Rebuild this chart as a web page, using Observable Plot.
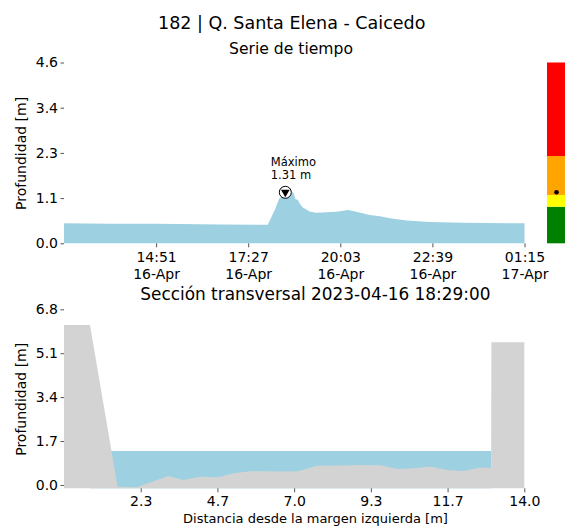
<!DOCTYPE html>
<html>
<head>
<meta charset="utf-8">
<script src="https://cdn.jsdelivr.net/npm/d3@7"></script>
<script src="https://cdn.jsdelivr.net/npm/@observablehq/plot@0.6"></script>
<style>
  html, body { margin: 0; padding: 0; background: white; }
  #wrap { position: relative; width: 565px; height: 527px; overflow: hidden; font-family: "DejaVu Sans", sans-serif; color: black; }
  .t { position: absolute; white-space: nowrap; transform: translateX(-50%); line-height: 1; }
  .abs { position: absolute; }
</style>
</head>
<body>
<div id="wrap"></div>
<script>
// ---------- Data ----------
const stationTitle = "182 | Q. Santa Elena - Caicedo";
const seriesTitle = "Serie de tiempo";
const sectionTitle = "Sección transversal 2023-04-16 18:29:00";
const yLabel = "Profundidad [m]";
const xLabelSection = "Distancia desde la margen izquierda [m]";

// time series (depth in m)
const seriesTimes = [
  "2023-04-16 12:15", "2023-04-16 13:30", "2023-04-16 14:52", "2023-04-16 16:39",
  "2023-04-16 18:00", "2023-04-16 18:04", "2023-04-16 18:12", "2023-04-16 18:20",
  "2023-04-16 18:27", "2023-04-16 18:34", "2023-04-16 18:40", "2023-04-16 18:43",
  "2023-04-16 18:47", "2023-04-16 18:51", "2023-04-16 18:54", "2023-04-16 18:59",
  "2023-04-16 19:11", "2023-04-16 19:22", "2023-04-16 19:39", "2023-04-16 19:56",
  "2023-04-16 20:16", "2023-04-16 20:30", "2023-04-16 20:53", "2023-04-16 21:10",
  "2023-04-16 21:27", "2023-04-16 21:55", "2023-04-16 22:34", "2023-04-16 23:30",
  "2023-04-17 01:15"
];
const seriesDepth = [
  0.51, 0.50, 0.50, 0.48,
  0.47, 0.59, 0.85, 1.15,
  1.21, 1.23, 1.27, 1.31,
  1.12, 1.11, 1.02, 0.92,
  0.81, 0.78, 0.79, 0.80,
  0.85, 0.80, 0.72, 0.69,
  0.64, 0.58, 0.54, 0.52,
  0.51
];
const maxTime = "2023-04-16 18:29";
const maxDepth = 1.31;

const timeDomain = ["2023-04-16 12:15", "2023-04-17 01:15"];
const timeTicks = ["2023-04-16 14:51", "2023-04-16 17:27", "2023-04-16 20:03", "2023-04-16 22:39", "2023-04-17 01:15"];
const timeTickLabels = ["14:51\n16-Apr", "17:27\n16-Apr", "20:03\n16-Apr", "22:39\n16-Apr", "01:15\n17-Apr"];
const depthTicksTop = [0, 1.15, 2.3, 3.45, 4.6];
const depthTickLabelsTop = ["0.0", "1.1", "2.3", "3.4", "4.6"];
const depthDomainTop = [0, 4.6];

// alert levels (colour bar)
const levelLow = [0, 0.93, 1.23, 2.22];
const levelHigh = [0.93, 1.23, 2.22, 4.6];
const levelColors = ["#008000", "#ffff00", "#ffa500", "#ff0000"];

// cross section
const bedX = [0, 0.79, 1.63, 2.21, 2.62, 3.17, 3.63, 4.14, 4.70, 5.15, 5.66, 6.17, 6.67, 7.13, 7.69, 8.40, 9.11, 9.62, 10.17, 10.63, 11.14, 11.65, 12.15, 12.66, 12.99, 13.0, 14.0];
const bedZ = [6.19, 6.19, -0.07, -0.09, 0.09, 0.35, 0.19, 0.32, 0.30, 0.45, 0.53, 0.53, 0.52, 0.53, 0.74, 0.75, 0.77, 0.76, 0.62, 0.65, 0.71, 0.58, 0.54, 0.68, 0.66, 5.52, 5.52];
const waterLevel = 1.31;
const distTicks = [14/6, 28/6, 7, 56/6, 70/6, 14];
const distTickLabels = ["2.3", "4.7", "7.0", "9.3", "11.7", "14.0"];
const depthTicksSec = [0, 1.7, 3.4, 5.1, 6.8];
const depthTickLabelsSec = ["0.0", "1.7", "3.4", "5.1", "6.8"];
const depthDomainSec = [-0.13, 6.8];
const distDomain = [0, 14];

// ---------- Build ----------
const parse = d3.utcParse("%Y-%m-%d %H:%M");
const series = seriesTimes.map((t, i) => ({t: parse(t), v: seriesDepth[i]}));
const maxPoint = [{t: parse(maxTime), v: maxDepth}];
const tickDates = timeTicks.map(parse);
const timeLabelMap = new Map(tickDates.map((d, i) => [+d, timeTickLabels[i]]));
const labelFor = (ticks, labels) => d => labels[ticks.findIndex(t => Math.abs(t - d) < 1e-9)];
const bands = levelLow.map((lo, i) => ({lo, hi: levelHigh[i], color: levelColors[i]}));
const bed = bedX.map((x, i) => ({x, z: bedZ[i]}));
const wetIdx = bed.map((d, i) => d.z < waterLevel ? i : -1).filter(i => i >= 0);
const water = bed.slice(Math.max(0, wetIdx[0] - 1), wetIdx[wetIdx.length - 1] + 1);

const BLUE = "#9dd0e1";
const GRAY = "#d3d3d3";
const font = {fontFamily: "DejaVu Sans, sans-serif", fontSize: "14px", color: "black", background: "white", overflow: "visible"};

const wrap = document.getElementById("wrap");
function place(node, left, top) {
  node.classList.add("abs");
  node.style.left = left + "px";
  node.style.top = top + "px";
  wrap.appendChild(node);
}
function text(str, cx, top, size) {
  const d = document.createElement("div");
  d.className = "t";
  d.textContent = str;
  d.style.left = cx + "px";
  d.style.top = top + "px";
  d.style.fontSize = size + "px";
  wrap.appendChild(d);
}

// top chart
const topH = 285;
const topChart = Plot.plot({
  width: 565, height: topH,
  marginTop: 62.5, marginBottom: topH - 243.3, marginLeft: 64, marginRight: 40.5,
  style: font,
  x: {type: "utc", domain: timeDomain.map(parse)},
  y: {domain: depthDomainTop},
  marks: [
    Plot.areaY(series, {x: "t", y: "v", fill: BLUE}),
    Plot.axisX({ticks: tickDates, tickFormat: d => timeLabelMap.get(+d), tickSize: 4, tickPadding: 3, lineHeight: 1.17, stroke: "#555", label: null}),
    Plot.axisY({ticks: depthTicksTop, tickFormat: labelFor(depthTicksTop, depthTickLabelsTop), tickSize: 3.5, tickPadding: 3, stroke: "#555",
      label: yLabel, labelAnchor: "center", labelOffset: 48, labelArrow: "none"}),
    Plot.dot(maxPoint, {x: "t", y: "v", r: 6, fill: "white", stroke: "black", strokeWidth: 1}),
    Plot.dot(maxPoint, {x: "t", y: "v", r: 3.2, symbol: "triangle", rotate: 180, fill: "black"}),
    Plot.text(maxPoint, {x: "t", y: "v", text: d => `Máximo\n${d.v.toFixed(2)} m`, textAnchor: "start", lineAnchor: "bottom", lineHeight: 1.17, dx: -14.5, dy: -13, fontSize: 11.5, fill: "black"})
  ]
});
place(topChart, 0, 0);

// colour bar
const bar = Plot.plot({
  width: 18, height: topH,
  marginTop: 62.5, marginBottom: topH - 243.3, marginLeft: 0, marginRight: 0,
  style: {background: "transparent", overflow: "visible"},
  x: {domain: [0, 1], axis: null},
  y: {domain: depthDomainTop, axis: null},
  marks: [
    Plot.rectY(bands, {x1: 0, x2: 1, y1: "lo", y2: "hi", fill: "color"}),
    Plot.dot(maxPoint, {x: 0.5, y: "v", r: 2.3, fill: "black"})
  ]
});
place(bar, 547, 0);

// bottom chart
const botTop = 285, botH = 242;
const botChart = Plot.plot({
  width: 565, height: botH,
  marginTop: 309.3 - botTop, marginBottom: botTop + botH - 488.3, marginLeft: 64, marginRight: 40.7,
  style: font,
  x: {domain: distDomain},
  y: {domain: depthDomainSec},
  marks: [
    Plot.areaY(water, {x: "x", y1: depthDomainSec[0], y2: waterLevel, fill: BLUE}),
    Plot.areaY(bed, {x: "x", y1: depthDomainSec[0], y2: "z", fill: GRAY}),
    Plot.axisX({ticks: distTicks, tickFormat: labelFor(distTicks, distTickLabels), tickSize: 4, tickPadding: 3, stroke: "#555", label: null}),
    Plot.axisY({ticks: depthTicksSec, tickFormat: labelFor(depthTicksSec, depthTickLabelsSec), tickSize: 3.5, tickPadding: 3, stroke: "#555",
      label: yLabel, labelAnchor: "center", labelOffset: 48, labelArrow: "none"})
  ]
});
place(botChart, 0, botTop);

// titles
text(stationTitle, 291.7, 14.5, 17.5);
text(seriesTitle, 291, 41.8, 15.6);
text(sectionTitle, 315.4, 286.2, 16.9);
text(xLabelSection, 315.5, 511.5, 13);
</script>
</body>
</html>
